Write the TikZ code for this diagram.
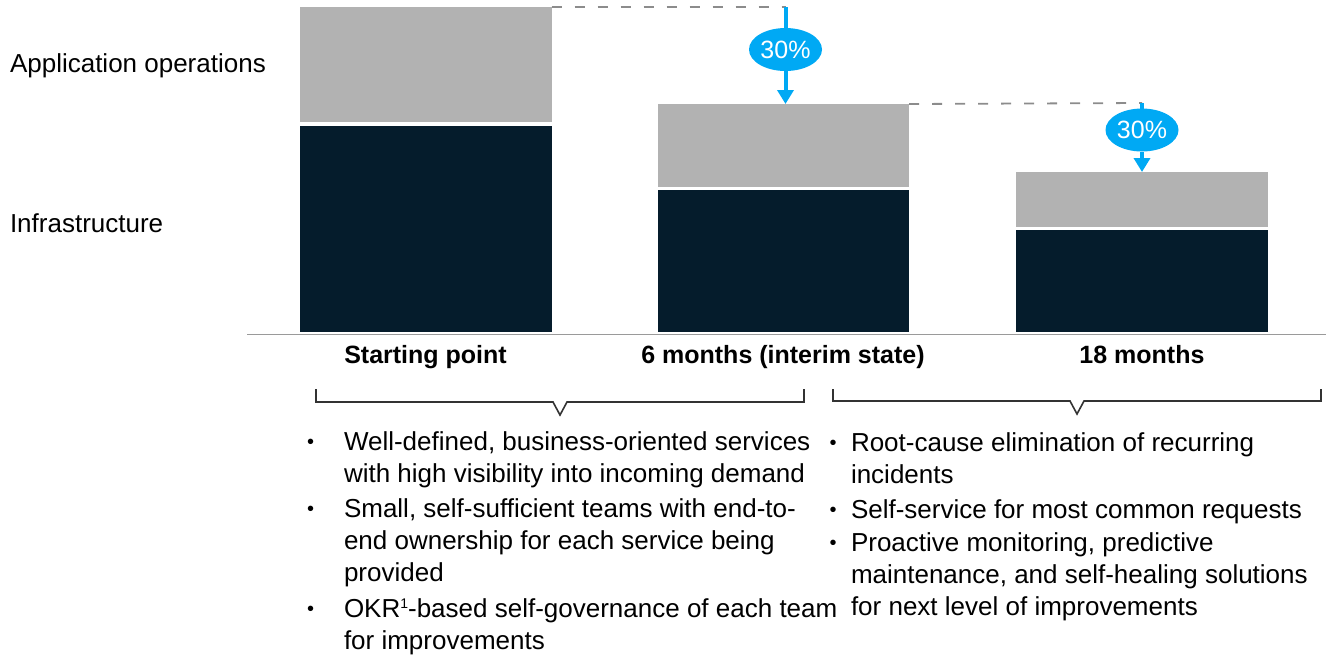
\documentclass[tikz,border=0pt]{standalone}
\usepackage{fontspec}
\setmainfont{Liberation Sans}
\usetikzlibrary{shapes.geometric,arrows.meta}
\definecolor{barGrey}{HTML}{B2B2B2}
\definecolor{barDark}{HTML}{051C2C}
\definecolor{accBlue}{HTML}{00A9F4}
\definecolor{dashGrey}{HTML}{8C8C8C}
\definecolor{axisGrey}{HTML}{9A9A9A}
\definecolor{brkGrey}{HTML}{333333}
\newcommand\supone{\raisebox{9pt}{\fontsize{14}{14}\selectfont 1}}
\tikzset{
  greybar/.style={fill=barGrey, draw=none, inner sep=0pt, outer sep=0pt, anchor=north west, minimum width=251.5pt},
  darkbar/.style={fill=barDark, draw=none, inner sep=0pt, outer sep=0pt, anchor=north west, minimum width=251.5pt},
  txt/.style={font=\fontsize{26}{31}\selectfont, inner sep=0pt, outer sep=0pt, anchor=base west, text=black},
  boldtxt/.style={font=\fontsize{25}{30}\selectfont\bfseries, inner sep=0pt, outer sep=0pt, anchor=base, text=black},
  bul/.style={font=\fontsize{20}{24}\selectfont, inner sep=0pt, outer sep=0pt, anchor=base, text=black, yshift=2pt},
  pct/.style={ellipse, fill=accBlue, text=white, inner sep=0pt, outer sep=0pt, minimum width=73pt, minimum height=43pt, font=\fontsize{25}{30}\selectfont},
  bluearrow/.style={draw=accBlue, line width=4pt},
  bluetip/.style={-{Triangle[width=16pt,length=14pt]}},
  dashline/.style={draw=dashGrey, line width=1.8pt, dash pattern=on 10pt off 13pt},
  axisline/.style={draw=axisGrey, line width=1.6pt},
  bracketline/.style={draw=brkGrey, line width=1.6pt}
}
\begin{document}
\begin{tikzpicture}[x=1pt, y=-1pt]
\useasboundingbox (0,0) rectangle (1326,657);
% bars
\node[greybar, minimum height=115pt] (g1) at (300,7) {};
\node[darkbar, minimum height=206pt] (d1) at (300,126) {};
\node[greybar, minimum height=83pt] (g2) at (657.5,104) {};
\node[darkbar, minimum height=142pt] (d2) at (657.5,190) {};
\node[greybar, minimum height=55pt] (g3) at (1016,172) {};
\node[darkbar, minimum height=102pt] (d3) at (1016,230) {};
% axis
\coordinate (axL) at (247,334.5);
\coordinate (axR) at (1326,334.5);
\draw[axisline] (axL) -- (axR);
% dashed reference lines and arrows
\coordinate (c1) at (785.5,7);
\coordinate (c2) at (1142,103);
\draw[dashline] (g1.north east) -- (c1);
\draw[dashline] (g2.north east) -- (c2);
\node[pct] (e1) at (785.5,49.5) {30\%};
\node[pct] (e2) at (1142,130) {30\%};
\draw[bluearrow] (c1) -- (e1);
\draw[bluearrow, bluetip] (e1) -- (e1 |- g2.north);
\draw[bluearrow] (c2) -- (e2);
\draw[bluearrow, bluetip] (e2) -- (e2 |- g3.north);
% row labels
\node[txt] (lapp) at (10,72) {Application operations};
\node[txt] (linf) at (10,232) {Infrastructure};
% column labels
\node[boldtxt] (x1) at (425.5,363) {Starting point};
\node[boldtxt] (x2) at (783,363) {6 months (interim state)};
\node[boldtxt] (x3) at (1142,363) {18 months};
% brackets
\coordinate (b1a) at (316,389);
\coordinate (b1b) at (316,402);
\coordinate (b1c) at (553,402);
\coordinate (b1t) at (560,415);
\coordinate (b1d) at (567,402);
\coordinate (b1e) at (804,402);
\coordinate (b1f) at (804,389);
\draw[bracketline] (b1a) -- (b1b) -- (b1c) -- (b1t) -- (b1d) -- (b1e) -- (b1f);
\coordinate (b2a) at (833,389);
\coordinate (b2b) at (833,401);
\coordinate (b2c) at (1070,401);
\coordinate (b2t) at (1077,414);
\coordinate (b2d) at (1084,401);
\coordinate (b2e) at (1321,401);
\coordinate (b2f) at (1321,389);
\draw[bracketline] (b2a) -- (b2b) -- (b2c) -- (b2t) -- (b2d) -- (b2e) -- (b2f);
% left bullets
\node[bul] (lb1) at (310.5,450) {•};
\node[txt] (l1) at (344,450) {Well-defined, business-oriented services};
\node[txt] (l2) at (344,482) {with high visibility into incoming demand};
\node[bul] (lb2) at (310.5,517) {•};
\node[txt] (l3) at (344,517) {Small, self-sufficient teams with end-to-};
\node[txt] (l4) at (344,549) {end ownership for each service being};
\node[txt] (l5) at (344,581) {provided};
\node[bul] (lb3) at (310.5,617) {•};
\node[txt] (l6) at (344,617) {OKR\supone-based self-governance of each team};
\node[txt] (l7) at (344,649) {for improvements};
% right bullets
\node[bul] (rb1) at (833,451) {•};
\node[txt] (r1) at (851,451) {Root-cause elimination of recurring};
\node[txt] (r2) at (851,483) {incidents};
\node[bul] (rb2) at (833,518) {•};
\node[txt] (r3) at (851,518) {Self-service for most common requests};
\node[bul] (rb3) at (833,551) {•};
\node[txt] (r4) at (851,551) {Proactive monitoring, predictive};
\node[txt] (r5) at (851,583) {maintenance, and self-healing solutions};
\node[txt] (r6) at (851,615) {for next level of improvements};
\end{tikzpicture}
\end{document}
